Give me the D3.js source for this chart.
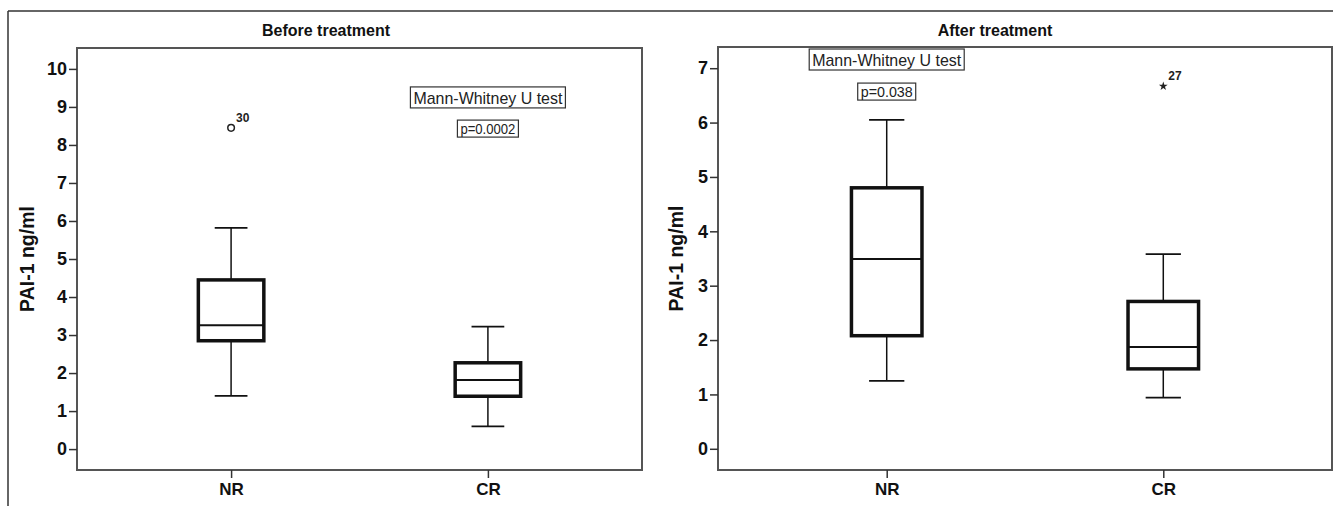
<!DOCTYPE html>
<html>
<head>
<meta charset="utf-8">
<script src="https://cdn.jsdelivr.net/npm/d3@7"></script>
<style>
  body { margin: 0; background: #fff; }
  svg { display: block; font-family: "Liberation Sans", Arial, sans-serif; }
</style>
</head>
<body>
<svg id="chart" width="1333" height="506"></svg>
<script>
// categories
var groups = ["NR", "CR"];

// box stats: [lower whisker, Q1, median, Q3, upper whisker]
var beforeNR = [1.40, 2.85, 3.26, 4.45, 5.82];
var beforeCR = [0.60, 1.39, 1.82, 2.27, 3.22];
var afterNR = [1.25, 2.08, 3.49, 4.80, 6.05];
var afterCR = [0.94, 1.47, 1.87, 2.71, 3.58];

// outliers
var beforeOutliers = [{group: "NR", value: 8.45, label: "30", kind: "circle"}];
var afterOutliers = [{group: "CR", value: 6.67, label: "27", kind: "star"}];

// tick labels
var beforeTicks = [0, 1, 2, 3, 4, 5, 6, 7, 8, 9, 10];
var afterTicks = [0, 1, 2, 3, 4, 5, 6, 7];

// test annotations
var testName = "Mann-Whitney U test";
var beforeP = "p=0.0002";
var afterP = "p=0.038";

var svg = d3.select("#chart");

// outer frame (top and left edges only visible)
svg.append("line").attr("x1", 8).attr("x2", 1333).attr("y1", 11).attr("y2", 11)
    .attr("stroke", "#333").attr("stroke-width", 1.5);
svg.append("line").attr("x1", 8).attr("x2", 8).attr("y1", 11).attr("y2", 506)
    .attr("stroke", "#333").attr("stroke-width", 1.5);

function drawPanel(opt) {
    var g = svg.append("g");
    var x = d3.scalePoint().domain(groups).range([opt.left, opt.right]).padding(opt.pad);
    var y = d3.scaleLinear().domain(opt.domain).range([opt.bottom, opt.top]);
    var boxW = x.step() * 0.255;

    // title
    g.append("text").attr("x", opt.titleX).attr("y", 36)
        .attr("text-anchor", "middle").attr("font-size", 16).attr("font-weight", "bold")
        .attr("fill", "#111").text(opt.title);

    // plot frame
    g.append("rect").attr("x", opt.left).attr("y", opt.top)
        .attr("width", opt.right - opt.left).attr("height", opt.bottom - opt.top)
        .attr("fill", "none").attr("stroke", "#555").attr("stroke-width", 2);

    // y axis
    var yAxis = g.append("g").attr("transform", "translate(" + opt.left + ",0)")
        .call(d3.axisLeft(y).tickValues(opt.ticks).tickFormat(d3.format("d")).tickSize(8).tickPadding(2));
    yAxis.select(".domain").remove();
    yAxis.selectAll("line").attr("stroke", "#333").attr("stroke-width", 1.5);
    yAxis.selectAll("text").attr("font-size", 18).attr("font-weight", "bold")
        .attr("fill", "#111").attr("font-family", "Liberation Sans, Arial, sans-serif");

    // x axis
    var xAxis = g.append("g").attr("transform", "translate(0," + opt.bottom + ")")
        .call(d3.axisBottom(x).tickSize(8).tickPadding(5));
    xAxis.select(".domain").remove();
    xAxis.selectAll("line").attr("stroke", "#333").attr("stroke-width", 1.5);
    xAxis.selectAll("text").attr("font-size", 17).attr("font-weight", "bold")
        .attr("fill", "#111").attr("font-family", "Liberation Sans, Arial, sans-serif");

    // y label
    g.append("text")
        .attr("transform", "translate(" + opt.labelX + "," + ((opt.top + opt.bottom) / 2) + ") rotate(-90)")
        .attr("text-anchor", "middle").attr("font-size", 19.5).attr("font-weight", "bold")
        .attr("fill", "#111").text("PAI-1 ng/ml");

    // boxes
    var boxes = g.selectAll(".box").data(opt.stats).enter().append("g").attr("class", "box");
    boxes.each(function(d, i) {
        var b = d3.select(this);
        var cx = x(groups[i]);
        // whiskers
        b.append("line").attr("x1", cx).attr("x2", cx).attr("y1", y(d[0])).attr("y2", y(d[1]))
            .attr("stroke", "#111").attr("stroke-width", 1.5);
        b.append("line").attr("x1", cx).attr("x2", cx).attr("y1", y(d[3])).attr("y2", y(d[4]))
            .attr("stroke", "#111").attr("stroke-width", 1.5);
        b.append("line").attr("x1", cx - boxW / 4).attr("x2", cx + boxW / 4).attr("y1", y(d[0])).attr("y2", y(d[0]))
            .attr("stroke", "#111").attr("stroke-width", 1.8);
        b.append("line").attr("x1", cx - boxW / 4).attr("x2", cx + boxW / 4).attr("y1", y(d[4])).attr("y2", y(d[4]))
            .attr("stroke", "#111").attr("stroke-width", 1.8);
        // box
        b.append("rect").attr("x", cx - boxW / 2).attr("y", y(d[3]))
            .attr("width", boxW).attr("height", y(d[1]) - y(d[3]))
            .attr("fill", "#fff").attr("stroke", "#111").attr("stroke-width", 3.5);
        // median
        b.append("line").attr("x1", cx - boxW / 2).attr("x2", cx + boxW / 2).attr("y1", y(d[2])).attr("y2", y(d[2]))
            .attr("stroke", "#111").attr("stroke-width", 2);
    });

    // outliers
    opt.outliers.forEach(function(o) {
        var cx = x(o.group), cy = y(o.value);
        if (o.kind == "circle") {
            g.append("circle").attr("cx", cx).attr("cy", cy).attr("r", 3.3)
                .attr("fill", "none").attr("stroke", "#222").attr("stroke-width", 1.5);
        } else {
            g.append("path").attr("d", d3.symbol().type(d3.symbolStar).size(24)())
                .attr("transform", "translate(" + cx + "," + cy + ")").attr("fill", "#222");
        }
        g.append("text").attr("x", cx + 5).attr("y", cy - 6)
            .attr("font-size", 12).attr("font-weight", "bold").attr("fill", "#222").text(o.label);
    });

    // annotation boxes
    function labelBox(cx, cy, txt, size, w, h) {
        g.append("rect").attr("x", cx - w / 2).attr("y", cy - h / 2).attr("width", w).attr("height", h)
            .attr("fill", "#fff").attr("stroke", "#333").attr("stroke-width", 1.2);
        g.append("text").attr("x", cx).attr("y", cy).attr("dy", "0.36em")
            .attr("text-anchor", "middle").attr("font-size", size).attr("fill", "#222")
            .attr("textLength", w - 6).attr("lengthAdjust", "spacingAndGlyphs").text(txt);
    }
    labelBox(x(opt.noteGroup), y(opt.noteY[0]), testName, 17, 155, 21);
    labelBox(x(opt.noteGroup), y(opt.noteY[1]), opt.p, 14, opt.pW, 17);
}

drawPanel({
    title: "Before treatment", titleX: 326,
    left: 77, right: 642, top: 48, bottom: 470, pad: 0.6,
    domain: [-0.55, 10.55], ticks: beforeTicks, labelX: 34,
    stats: [beforeNR, beforeCR], outliers: beforeOutliers,
    noteGroup: "CR", noteY: [9.25, 8.43], p: beforeP, pW: 61
});

drawPanel({
    title: "After treatment", titleX: 995,
    left: 718, right: 1332, top: 47, bottom: 470, pad: 0.61,
    domain: [-0.39, 7.39], ticks: afterTicks, labelX: 683,
    stats: [afterNR, afterCR], outliers: afterOutliers,
    noteGroup: "NR", noteY: [7.16, 6.57], p: afterP, pW: 58
});
</script>
</body>
</html>
